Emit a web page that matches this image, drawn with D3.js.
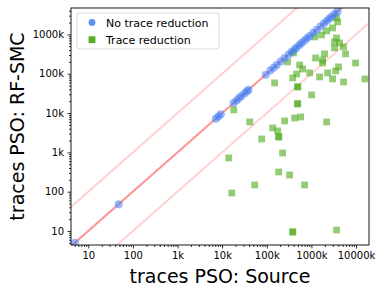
<!DOCTYPE html>
<html>
<head>
<meta charset="utf-8">
<script src="https://cdn.jsdelivr.net/npm/d3@7"></script>
<style>
  body { margin: 0; background: #fff; }
  svg { font-family: "DejaVu Sans", sans-serif; }
</style>
</head>
<body>
<svg width="384" height="294"></svg>
<script>
// no trace reduction: sits on the diagonal
var blueX = [5, 48, 7200, 8200, 9300, 18000, 21000, 24000, 27000, 32000, 36000, 39000,
  94500, 120000, 142000, 166000, 204000, 250000, 309000, 360000, 420000, 467000, 540000,
  603000, 700000, 800000, 912000, 1100000, 1310000, 1600000, 1900000, 2190000, 2500000,
  2820000, 3300000, 3850000];
var blueY = [5, 48, 7200, 8200, 9300, 18000, 21000, 24000, 27000, 32000, 36000, 39000,
  94500, 120000, 142000, 166000, 204000, 250000, 309000, 360000, 420000, 467000, 540000,
  603000, 700000, 800000, 912000, 1100000, 1310000, 1600000, 1900000, 2190000, 2500000,
  2820000, 3300000, 3850000];

// trace reduction
var greenX = [3660000, 3860000, 2980000, 2190000, 1690000, 1180000, 3660000, 3300000, 4280000,
  3300000, 5250000, 5820000, 1970000, 1240000, 1780000, 1780000, 9750000, 398000, 292000,
  545000, 635000, 467000, 912000, 1520000, 2300000, 3480000, 4060000, 2980000, 5250000,
  15800000, 380000, 150000, 491000, 495000, 1010000, 18200, 491000, 488000, 41400, 135600,
  175400, 184600, 186000, 76900, 251000, 421000, 573000, 2190000, 14060, 226000, 184600,
  325000, 53600, 703000, 16400, 380000, 383000, 3660000];
var greenY = [2630000, 2080000, 1460000, 1230000, 971000, 863000, 815000, 644000, 608000,
  453000, 481000, 319000, 319000, 252000, 224000, 188000, 188000, 338000, 200000,
  167000, 132000, 98900, 105000, 83000, 105000, 118000, 149000, 73800, 61800,
  73800, 78200, 58300, 46100, 46500, 28900, 12000, 17100, 17300, 5940, 4180,
  3510, 2470, 2480, 2190, 6300, 7500, 7960, 5940, 721, 966, 317,
  266, 148, 148, 92.7, 9.4, 9.5, 10.6];

var tickVals = [10, 100, 1000, 10000, 100000, 1000000, 10000000];
var tickLabels = ['10', '100', '1k', '10k', '100k', '1000k', '10000k'];
var ratios = [1, 10, 0.1];
var seriesNames = ['No trace reduction', 'Trace reduction'];

var margin = {top: 8, left: 71, right: 15, bottom: 49};
var width = 384, height = 294;
var blue = '#3f7ef5', green = '#4caa1a';

var svg = d3.select('svg');

var x = d3.scaleLog()
  .domain([4.1, 1.95e7])
  .range([margin.left, width - margin.right]);
var y = d3.scaleLog()
  .domain([4.4, 4.7e6])
  .range([height - margin.bottom, margin.top]);

var labelOf = v => tickLabels[tickVals.indexOf(v)];

// minor ticks 2..9 each decade
var minor = [];
for (var e = 0; e <= 7; e++) {
  for (var m = 2; m <= 9; m++) minor.push(m * Math.pow(10, e));
}
var minorX = minor.filter(v => v >= x.domain()[0] && v <= x.domain()[1]);
var minorY = minor.filter(v => v >= y.domain()[0] && v <= y.domain()[1]);

svg.append('clipPath').attr('id', 'plot')
  .append('rect')
  .attr('x', margin.left).attr('y', margin.top)
  .attr('width', x.range()[1] - x.range()[0])
  .attr('height', y.range()[0] - y.range()[1]);

var plot = svg.append('g').attr('clip-path', 'url(#plot)');

// reference lines y = r * x
var ends = x.domain();
plot.selectAll('line.ref')
  .data(ratios)
  .enter()
  .append('line')
  .attr('class', 'ref')
  .attr('x1', x(ends[0])).attr('x2', x(ends[1]))
  .attr('y1', r => y(ends[0] * r)).attr('y2', r => y(ends[1] * r))
  .attr('stroke', 'red')
  .attr('stroke-width', 2)
  .attr('stroke-opacity', r => r === 1 ? 0.42 : 0.18);

var greenData = greenX.map((v, i) => ({x: v, y: greenY[i]}));
var blueData = blueX.map((v, i) => ({x: v, y: blueY[i]}));

plot.selectAll('rect.pt')
  .data(greenData)
  .enter()
  .append('rect')
  .attr('class', 'pt')
  .attr('x', d => x(d.x) - 3.4)
  .attr('y', d => y(d.y) - 3.4)
  .attr('width', 6.8).attr('height', 6.8)
  .attr('fill', green)
  .attr('fill-opacity', 0.6);

plot.selectAll('circle.pt')
  .data(blueData)
  .enter()
  .append('circle')
  .attr('class', 'pt')
  .attr('cx', d => x(d.x))
  .attr('cy', d => y(d.y))
  .attr('r', 4)
  .attr('fill', blue)
  .attr('fill-opacity', 0.55);

// axes
var xAxis = d3.axisBottom(x).tickValues(tickVals.filter(v => v <= x.domain()[1]))
  .tickFormat(labelOf).tickSize(3.5).tickPadding(3.5);
var yAxis = d3.axisLeft(y).tickValues(tickVals.filter(v => v <= y.domain()[1]))
  .tickFormat(labelOf).tickSize(3.5).tickPadding(3.5);

var gx = svg.append('g')
  .attr('transform', `translate(0, ${height - margin.bottom})`)
  .call(xAxis);
var gy = svg.append('g')
  .attr('transform', `translate(${margin.left}, 0)`)
  .call(yAxis);

svg.append('g')
  .attr('transform', `translate(0, ${height - margin.bottom})`)
  .call(d3.axisBottom(x).tickValues(minorX).tickFormat('').tickSize(2))
  .call(g => g.select('.domain').remove());
svg.append('g')
  .attr('transform', `translate(${margin.left}, 0)`)
  .call(d3.axisLeft(y).tickValues(minorY).tickFormat('').tickSize(2))
  .call(g => g.select('.domain').remove());

[gx, gy].forEach(g => {
  g.select('.domain').remove();
  g.selectAll('text').attr('font-size', 10).attr('fill', '#000')
    .attr('font-family', '"DejaVu Sans", sans-serif');
});
svg.selectAll('.tick line').attr('stroke', '#000').attr('stroke-width', 0.8);

// frame
svg.append('rect')
  .attr('x', margin.left).attr('y', margin.top)
  .attr('width', x.range()[1] - x.range()[0])
  .attr('height', y.range()[0] - y.range()[1])
  .attr('fill', 'none')
  .attr('stroke', '#000')
  .attr('stroke-width', 0.9);

// axis titles
svg.append('text')
  .attr('x', (x.range()[0] + x.range()[1]) / 2)
  .attr('y', 283)
  .attr('text-anchor', 'middle')
  .attr('font-size', 19)
  .text('traces PSO: Source');
svg.append('text')
  .attr('transform', `translate(23.5, ${(y.range()[0] + y.range()[1]) / 2}) rotate(-90)`)
  .attr('text-anchor', 'middle')
  .attr('font-size', 19)
  .text('traces PSO: RF-SMC');

// legend
var legend = svg.append('g');
legend.append('rect')
  .attr('x', 77).attr('y', 13)
  .attr('width', 142).attr('height', 36)
  .attr('rx', 2.5)
  .attr('fill', '#fff').attr('fill-opacity', 0.85)
  .attr('stroke', '#d5d5d5').attr('stroke-width', 0.9);
legend.append('circle')
  .attr('cx', 92).attr('cy', 22.5).attr('r', 3.4)
  .attr('fill', blue).attr('fill-opacity', 0.85);
legend.append('rect')
  .attr('x', 88.6).attr('y', 36.3).attr('width', 6.8).attr('height', 6.8)
  .attr('fill', green).attr('fill-opacity', 0.95);
legend.selectAll('text.lg')
  .data(seriesNames)
  .enter()
  .append('text')
  .attr('class', 'lg')
  .attr('x', 106)
  .attr('y', (d, i) => 26.5 + i * 17)
  .attr('font-size', 11)
  .text(d => d);
</script>
</body>
</html>
